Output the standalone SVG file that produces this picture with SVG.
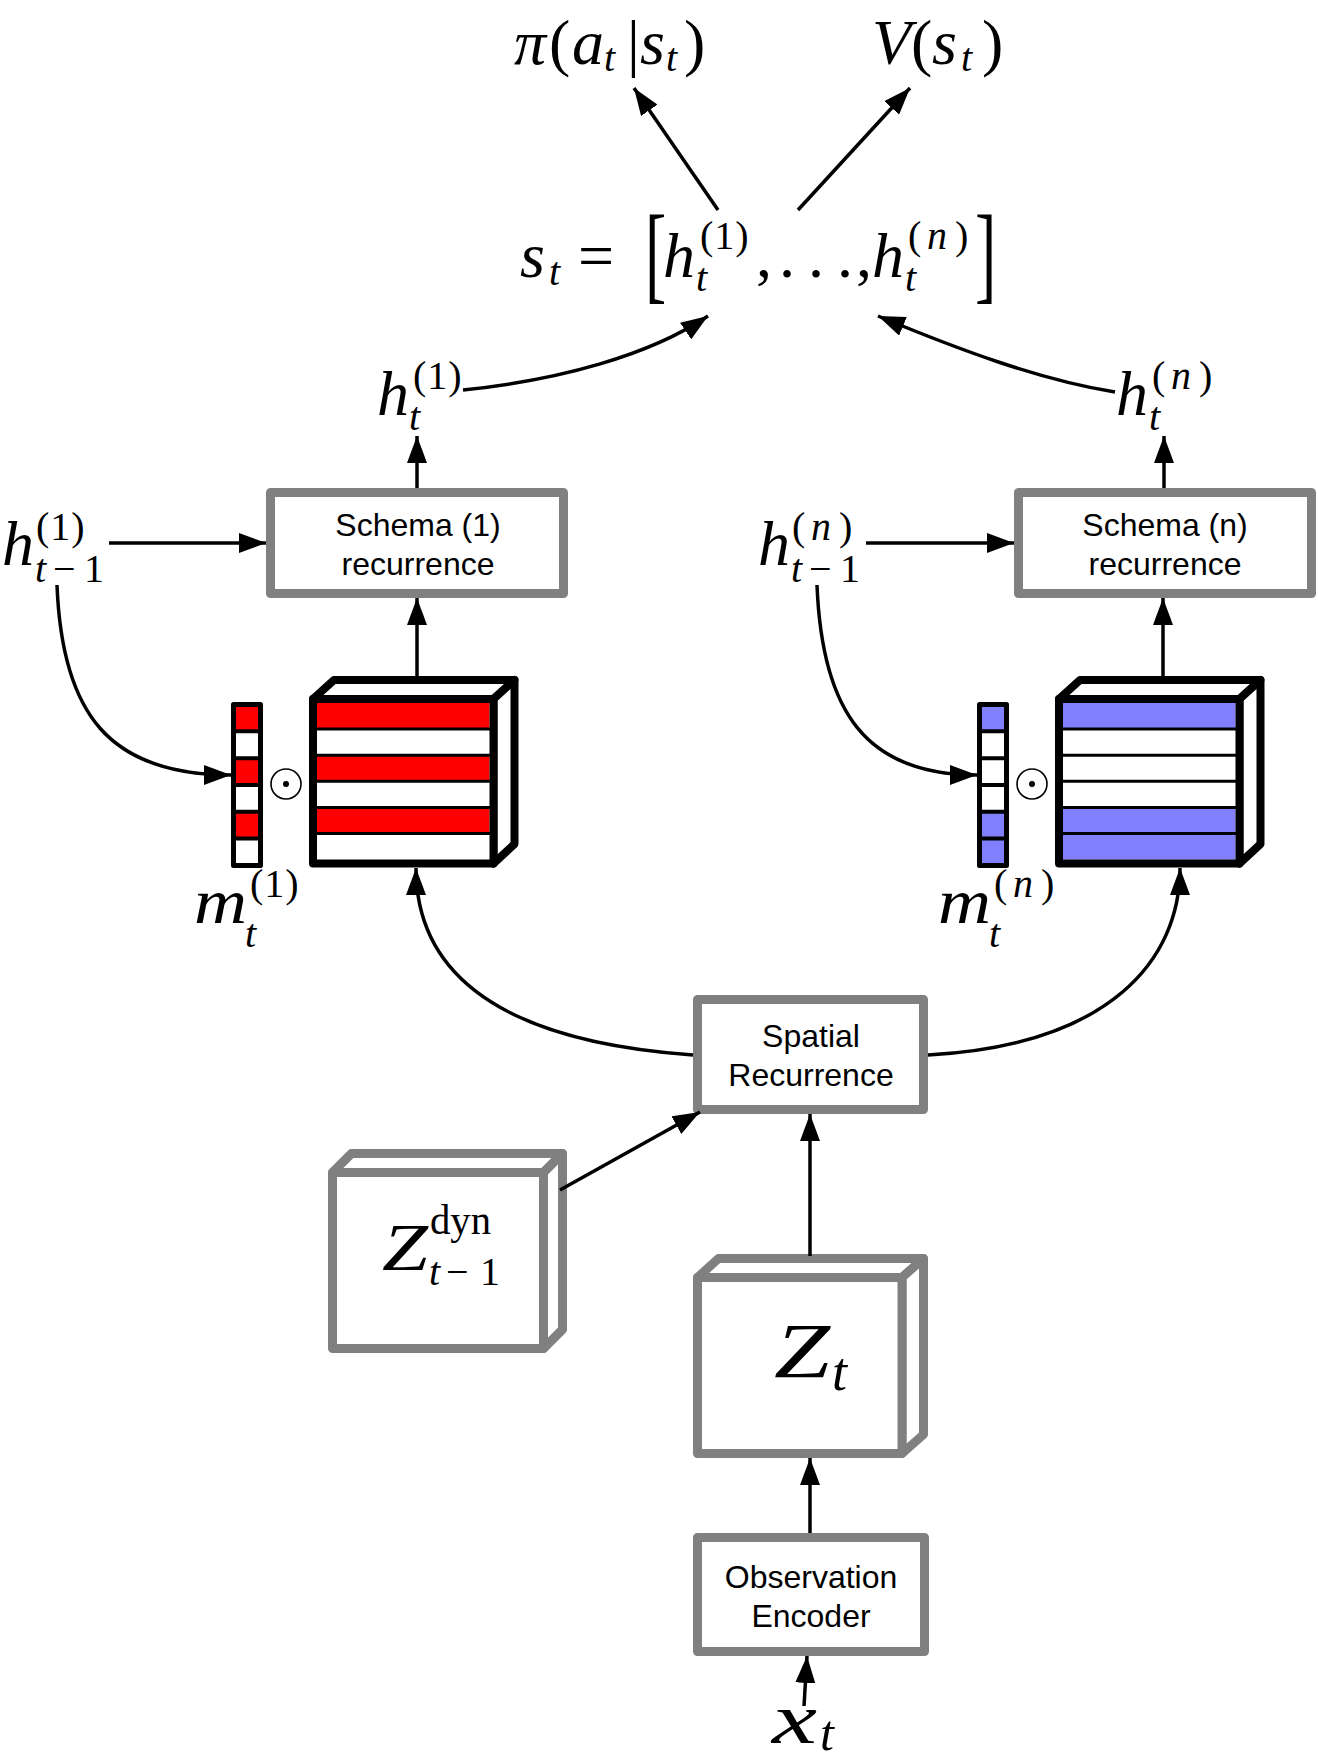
<svg xmlns="http://www.w3.org/2000/svg" width="1318" height="1760" viewBox="0 0 1318 1760">
<defs>
<marker id="ah" viewBox="0 0 27 20" refX="27" refY="10" markerWidth="27" markerHeight="20" markerUnits="userSpaceOnUse" orient="auto"><path d="M0,0 L27,10 L0,20 z" fill="#000"/></marker>
</defs>
<style>
.lbl{font-family:"Liberation Sans",Arial,sans-serif;font-size:32px;text-anchor:middle;fill:#000}
.m{font-family:"Liberation Serif","Times New Roman",serif;fill:#000}
.i{font-style:italic}
.s{font-size:40px}
.box{fill:#fff;stroke:#808080;stroke-width:9;stroke-linejoin:round}
.bk{fill:#fff;stroke:#000;stroke-width:8;stroke-linejoin:round}
.cell{stroke:#000;stroke-width:4}
.sep{stroke:#000;stroke-width:3}
.conn{fill:none;stroke:#000;stroke-width:3.5;marker-end:url(#ah)}
.red{fill:#ff0000}
.blue{fill:#8080ff}
.wh{fill:#fff}
</style>
<rect width="1318" height="1760" fill="#fff"/>

<!-- Top outputs -->
<g id="policy">
<text class="m" font-size="64"><tspan class="i" x="514" y="64">π</tspan><tspan x="549" y="64">(</tspan><tspan class="i" x="572" y="64">a</tspan><tspan class="i s" x="604" y="71">t</tspan><tspan x="627" y="64">|</tspan><tspan class="i" x="640" y="64">s</tspan><tspan class="i s" x="666" y="71">t</tspan><tspan x="684" y="64">)</tspan></text>
</g>
<g id="value">
<text class="m" font-size="64"><tspan class="i" x="872" y="64">V</tspan><tspan x="911" y="64">(</tspan><tspan class="i" x="932" y="64">s</tspan><tspan class="i s" x="961" y="71">t</tspan><tspan x="982" y="64">)</tspan></text>
</g>
<g id="state">
<text class="m" font-size="64"><tspan class="i" x="520" y="277">s</tspan><tspan class="i s" x="549" y="285">t</tspan><tspan x="578" y="277">=</tspan></text>
<text class="m" font-size="64"><tspan class="i" x="663" y="277">h</tspan><tspan class="s" x="700" y="249" letter-spacing="1">(1)</tspan><tspan class="i s" x="696" y="291">t</tspan></text>
<text class="m" font-size="64"><tspan x="756" y="277">,</tspan><tspan x="779" y="277">.</tspan><tspan x="808" y="277">.</tspan><tspan x="837" y="277">.</tspan><tspan x="856" y="277">,</tspan></text>
<text class="m" font-size="64"><tspan class="i" x="872" y="277">h</tspan><tspan class="s" x="908" y="249">(</tspan><tspan class="i s" x="927" y="249">n</tspan><tspan class="s" x="955" y="249">)</tspan><tspan class="i s" x="905" y="291">t</tspan></text>
<text class="m" font-size="64" transform="translate(645,312) scale(1,1.7)" y="-13">[</text>
<text class="m" font-size="64" transform="translate(975,312) scale(1,1.7)" y="-13">]</text>
</g>

<!-- hidden state labels -->
<g id="h1">
<text class="m" font-size="64"><tspan class="i" x="377" y="415">h</tspan><tspan class="s" x="413" y="389" letter-spacing="1">(1)</tspan><tspan class="i s" x="409" y="430">t</tspan></text>
</g>
<g id="hn">
<text class="m" font-size="64"><tspan class="i" x="1116" y="415">h</tspan><tspan class="s" x="1152" y="389">(</tspan><tspan class="i s" x="1171" y="389">n</tspan><tspan class="s" x="1199" y="389">)</tspan><tspan class="i s" x="1149" y="430">t</tspan></text>
</g>
<g id="hprev1">
<text class="m" font-size="64"><tspan class="i" x="2" y="565">h</tspan><tspan class="s" x="36" y="540" letter-spacing="1">(1)</tspan><tspan class="i s" x="35" y="582">t</tspan><tspan class="s" x="53" y="582">−</tspan><tspan class="s" x="84" y="582">1</tspan></text>
</g>
<g id="hprevn">
<text class="m" font-size="64"><tspan class="i" x="758" y="565">h</tspan><tspan class="s" x="792" y="540">(</tspan><tspan class="i s" x="811" y="540">n</tspan><tspan class="s" x="839" y="540">)</tspan><tspan class="i s" x="791" y="582">t</tspan><tspan class="s" x="809" y="582">−</tspan><tspan class="s" x="840" y="582">1</tspan></text>
</g>

<!-- Schema boxes -->
<g id="schema1">
<rect class="box" x="270.5" y="492.5" width="293" height="101"/>
<text class="lbl" x="418" y="536">Schema (1)</text>
<text class="lbl" x="418" y="575">recurrence</text>
</g>
<g id="scheman">
<rect class="box" x="1018.5" y="492.5" width="293" height="101"/>
<text class="lbl" x="1165" y="536">Schema (n)</text>
<text class="lbl" x="1165" y="575">recurrence</text>
</g>

<!-- Schema 1 memory -->
<g id="mask1">
<rect class="wh" x="233.5" y="704.5" width="27" height="161"/>
<rect class="red" x="233.5" y="704.5" width="27" height="26.8"/>
<rect class="red" x="233.5" y="758.2" width="27" height="26.8"/>
<rect class="red" x="233.5" y="811.8" width="27" height="26.8"/>
<path class="cell" d="M233.5,731.3H260.5M233.5,758.2H260.5M233.5,785H260.5M233.5,811.8H260.5M233.5,838.6H260.5"/>
<rect x="233.5" y="704.5" width="27" height="161" fill="none" stroke="#000" stroke-width="5" stroke-linejoin="round"/>
</g>
<g id="odot1">
<circle cx="286" cy="784" r="15" fill="none" stroke="#000" stroke-width="1.6"/>
<circle cx="286" cy="784" r="3" fill="#000"/>
</g>
<g id="feat1">
<polygon class="bk" points="313,699 334,680 514.5,680 493.5,699"/>
<polygon class="bk" points="493.5,699 514.5,680 514.5,844 493.5,863.5"/>
<rect class="wh" x="313" y="699" width="180.5" height="164.5"/>
<rect class="red" x="317" y="703" width="172.5" height="26.1"/>
<rect class="red" x="317" y="755.2" width="172.5" height="26.1"/>
<rect class="red" x="317" y="807.4" width="172.5" height="26.1"/>
<path class="sep" d="M313,729.1H493.5M313,755.2H493.5M313,781.3H493.5M313,807.4H493.5M313,833.5H493.5"/>
<rect x="313" y="699" width="180.5" height="164.5" fill="none" stroke="#000" stroke-width="8" stroke-linejoin="round"/>
</g>
<g id="m1label">
<text class="m" font-size="64"><tspan class="i" x="194" y="923" textLength="53" lengthAdjust="spacingAndGlyphs">m</tspan><tspan class="s" x="250" y="897" letter-spacing="1">(1)</tspan><tspan class="i s" x="245" y="947">t</tspan></text>
</g>

<!-- Schema n memory -->
<g id="maskn" transform="translate(746,0)">
<rect class="wh" x="233.5" y="704.5" width="27" height="161"/>
<rect class="blue" x="233.5" y="704.5" width="27" height="26.8"/>
<rect class="blue" x="233.5" y="811.8" width="27" height="53.7"/>
<path class="cell" d="M233.5,731.3H260.5M233.5,758.2H260.5M233.5,785H260.5M233.5,811.8H260.5M233.5,838.6H260.5"/>
<rect x="233.5" y="704.5" width="27" height="161" fill="none" stroke="#000" stroke-width="5" stroke-linejoin="round"/>
</g>
<g id="odotn">
<circle cx="1032" cy="784" r="15" fill="none" stroke="#000" stroke-width="1.6"/>
<circle cx="1032" cy="784" r="3" fill="#000"/>
</g>
<g id="featn" transform="translate(746,0)">
<polygon class="bk" points="313,699 334,680 514.5,680 493.5,699"/>
<polygon class="bk" points="493.5,699 514.5,680 514.5,844 493.5,863.5"/>
<rect class="wh" x="313" y="699" width="180.5" height="164.5"/>
<rect class="blue" x="317" y="703" width="172.5" height="26.1"/>
<rect class="blue" x="317" y="807.4" width="172.5" height="52.2"/>
<path class="sep" d="M313,729.1H493.5M313,755.2H493.5M313,781.3H493.5M313,807.4H493.5M313,833.5H493.5"/>
<rect x="313" y="699" width="180.5" height="164.5" fill="none" stroke="#000" stroke-width="8" stroke-linejoin="round"/>
</g>
<g id="mnlabel">
<text class="m" font-size="64"><tspan class="i" x="938" y="923" textLength="53" lengthAdjust="spacingAndGlyphs">m</tspan><tspan class="s" x="994" y="897">(</tspan><tspan class="i s" x="1013" y="897">n</tspan><tspan class="s" x="1041" y="897">)</tspan><tspan class="i s" x="989" y="947">t</tspan></text>
</g>

<!-- Spatial recurrence -->
<g id="spatial">
<rect class="box" x="697.5" y="999.5" width="226" height="110"/>
<text class="lbl" x="811" y="1047">Spatial</text>
<text class="lbl" x="811" y="1086">Recurrence</text>
</g>

<!-- Z dyn -->
<g id="zdyn">
<polygon class="box" points="332.5,1172.5 351.5,1153.5 562.5,1153.5 543.5,1172.5"/>
<polygon class="box" points="543.5,1172.5 562.5,1153.5 562.5,1329.5 543.5,1348.5"/>
<rect class="box" x="332.5" y="1172.5" width="211" height="176"/>
<text class="m" font-size="68"><tspan class="i" x="382" y="1270" textLength="46" lengthAdjust="spacingAndGlyphs">Z</tspan><tspan font-size="42" x="430" y="1234" textLength="61" lengthAdjust="spacingAndGlyphs">dyn</tspan><tspan class="i s" x="429" y="1285">t</tspan><tspan class="s" x="446" y="1285">−</tspan><tspan class="s" x="480" y="1285">1</tspan></text>
</g>

<!-- Z_t -->
<g id="zt">
<polygon class="box" points="697.5,1277.5 718.5,1258.5 923.5,1258.5 902,1277.5"/>
<polygon class="box" points="902,1277.5 923.5,1258.5 923.5,1434.5 902,1453.5"/>
<rect class="box" x="697.5" y="1277.5" width="204.5" height="176"/>
<text class="m" font-size="78"><tspan class="i" x="774" y="1377" textLength="56" lengthAdjust="spacingAndGlyphs">Z</tspan><tspan class="i" font-size="54" x="832" y="1390">t</tspan></text>
</g>

<!-- Observation encoder -->
<g id="obs">
<rect class="box" x="697.5" y="1537.5" width="227" height="114"/>
<text class="lbl" x="811" y="1588">Observation</text>
<text class="lbl" x="811" y="1627">Encoder</text>
</g>

<g id="xt">
<text class="m" font-size="72"><tspan class="i" x="772" y="1743" textLength="45" lengthAdjust="spacingAndGlyphs">x</tspan><tspan class="i" font-size="50" x="820" y="1750">t</tspan></text>
</g>

<!-- connectors -->
<g id="connectors">
<path class="conn" d="M718,210 L634,88"/>
<path class="conn" d="M798,210 L910,88"/>
<path class="conn" d="M463,390 C560,380 650,355 708,316"/>
<path class="conn" d="M1115,392 C1040,380 960,350 878,316"/>
<path class="conn" d="M417,488 L417,436"/>
<path class="conn" d="M1164,488 L1164,436"/>
<path class="conn" d="M109,543 L266,543"/>
<path class="conn" d="M866,543 L1014,543"/>
<path class="conn" d="M57,585 C62,715 110,775 231,775"/>
<path class="conn" d="M817,585 C822,712 866,775 977,775"/>
<path class="conn" d="M417,680 L417,598"/>
<path class="conn" d="M1163,680 L1163,598"/>
<path class="conn" d="M693,1055 C480,1040 416,960 416,868"/>
<path class="conn" d="M928,1055 C1110,1045 1180,960 1180,868"/>
<path class="conn" d="M560,1190 L700,1112"/>
<path class="conn" d="M810,1256 L810,1114"/>
<path class="conn" d="M810,1533 L810,1458"/>
<path class="conn" d="M804,1706 L807,1656"/>
</g>
</svg>
